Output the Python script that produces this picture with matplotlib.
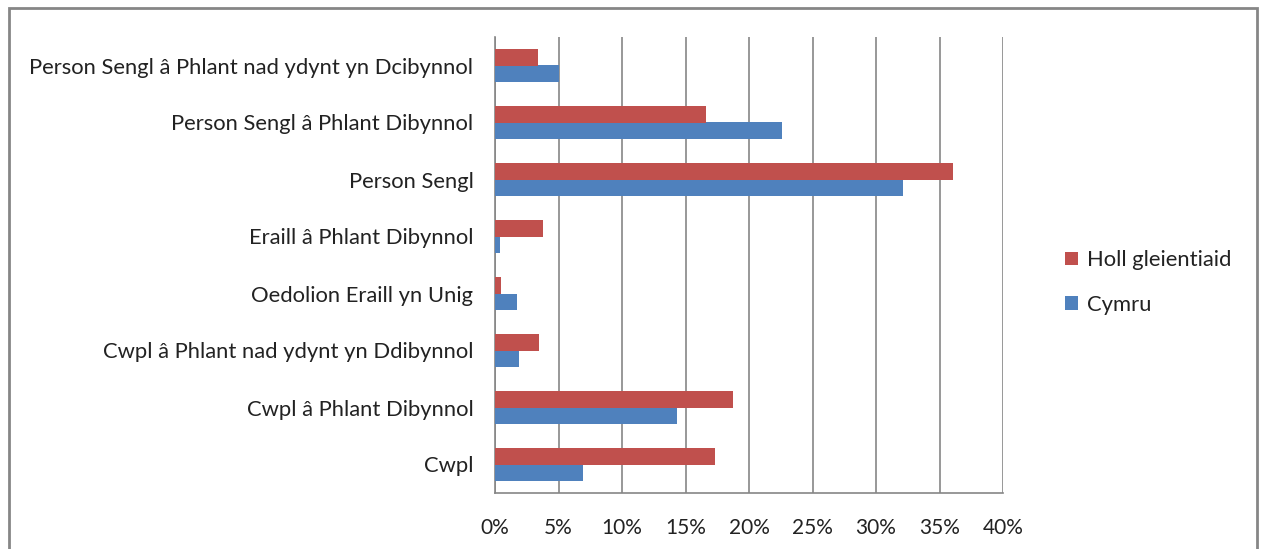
import matplotlib
matplotlib.use("Agg")
import matplotlib.pyplot as plt
from matplotlib.patches import Rectangle
from matplotlib.ticker import MultipleLocator, FuncFormatter
import numpy as np

plt.rcParams['font.family'] = ['Lato', 'DejaVu Sans']

categories = [
    "Cwpl",
    "Cwpl â Phlant Dibynnol",
    "Cwpl â Phlant nad ydynt yn Ddibynnol",
    "Oedolion Eraill yn Unig",
    "Eraill â Phlant Dibynnol",
    "Person Sengl",
    "Person Sengl â Phlant Dibynnol",
    "Person Sengl â Phlant nad ydynt yn Dcibynnol",
]
cymru = [6.9, 14.3, 1.9, 1.7, 0.4, 32.1, 22.6, 5.0]
holl = [17.35, 18.75, 3.5, 0.5, 3.8, 36.1, 16.65, 3.35]
series_names = ["Cymru", "Holl gleientiaid"]
colors = {"Cymru": "#4F81BD", "Holl gleientiaid": "#C0504D"}

W, H = 1263, 549
fig = plt.figure(figsize=(W / 100, H / 100), dpi=100)
ax = fig.add_axes([495 / W, 1 - 493 / H, (1003 - 495) / W, (493 - 37) / H])

y = np.arange(len(categories))
bh = 0.29
ax.barh(y - bh / 2, cymru, height=bh, color=colors["Cymru"], label="Cymru", zorder=3)
ax.barh(y + bh / 2, holl, height=bh, color=colors["Holl gleientiaid"], label="Holl gleientiaid", zorder=3)

ax.set_xlim(0, 40)
ax.set_ylim(-0.5, len(categories) - 0.5)
ax.xaxis.set_major_locator(MultipleLocator(5))
ax.xaxis.set_major_formatter(FuncFormatter(lambda v, p: f"{int(round(v))}%"))
ax.set_yticks(y)
ax.set_yticklabels(categories)
ax.grid(axis='x', color='#868686', linewidth=1.2, zorder=0)
for s in ['top', 'right']:
    ax.spines[s].set_visible(False)
for s in ['left', 'bottom']:
    ax.spines[s].set_color('#868686')
    ax.spines[s].set_linewidth(1.2)
ax.tick_params(axis='y', length=0, labelsize=15.8, colors='#222222', pad=15.5)
ax.tick_params(axis='x', length=0, labelsize=15, colors='#222222', pad=18)

handles, labels = ax.get_legend_handles_labels()
leg = fig.legend(handles[::-1], labels[::-1], loc='center left',
                 bbox_to_anchor=(1065 / W, 1 - 282.5 / H), frameon=False,
                 fontsize=15.8, handlelength=0.6, handleheight=0.6,
                 handletextpad=0.4, labelspacing=1.12, borderpad=0,
                 borderaxespad=0)
for t in leg.get_texts():
    t.set_color('#222222')

fig.add_artist(Rectangle((9 / W, -0.1), (1257 - 9) / W, 1.1 - 8 / H,
                         transform=fig.transFigure, fill=False,
                         edgecolor='#868686', linewidth=2))

fig.savefig("out.png", dpi=100, facecolor='white')
